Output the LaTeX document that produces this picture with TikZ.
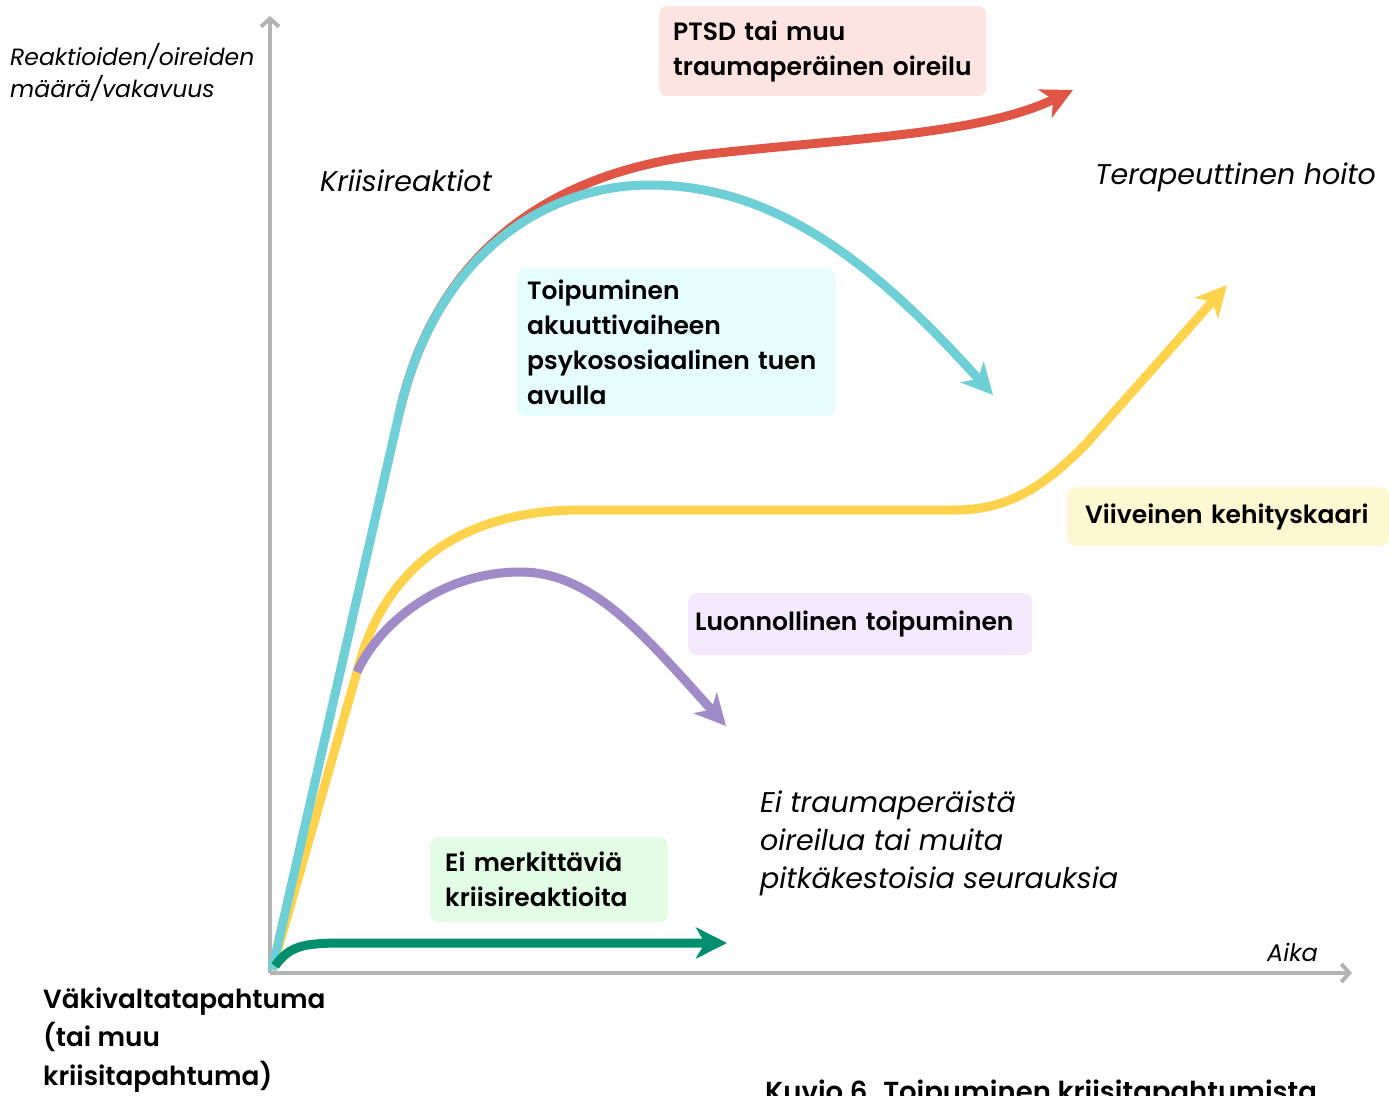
\documentclass[tikz,border=0pt]{standalone}
\usepackage{fontspec}
\setmainfont{Poppins}[BoldFont={Poppins SemiBold}]
\usetikzlibrary{arrows.meta}
\definecolor{axisgray}{HTML}{B3B3B3}
\definecolor{cred}{HTML}{E05543}
\definecolor{ccyan}{HTML}{6FCFD6}
\definecolor{cyellow}{HTML}{FFD24C}
\definecolor{cpurple}{HTML}{A08BC8}
\definecolor{cgreen}{HTML}{008F6E}
\definecolor{bpink}{HTML}{FDE4E1}
\definecolor{bcyan}{HTML}{E5FDFD}
\definecolor{byellow}{HTML}{FDF8D2}
\definecolor{bpurple}{HTML}{F4E8FD}
\definecolor{bgreen}{HTML}{E3FDE5}
\tikzset{
  axisline/.style={draw=axisgray, line width=4pt, -{Straight Barb[length=8pt,width=18pt,line width=4pt]}},
  curve/.style={line width=9pt, -{Stealth[length=31pt,width=31pt,inset=9pt]}},
  labelbox/.style={anchor=north west, rounded corners=8pt, align=left, inner ysep=0pt,
     font=\fontsize{25}{35}\selectfont\bfseries},
  itlabel/.style={anchor=west, align=left, inner sep=0pt, font=\fontsize{28.5}{38}\selectfont\itshape},
  boldlabel/.style={anchor=west, align=left, inner sep=0pt, font=\fontsize{26.3}{38.5}\selectfont\bfseries},
}
\begin{document}
\begin{tikzpicture}[x=1pt,y=-1pt]
\useasboundingbox (0,0) rectangle (1389,1095);
% coordinates
\coordinate (origin) at (270,973);
\coordinate (ytop) at (270,16);
\coordinate (xend) at (1352,973);
% axes
\draw[axisline] (origin) -- (ytop);
\draw[axisline] (origin) -- (xend);
% boxes
\node[labelbox, fill=bpink, text width=299pt, inner xsep=14pt, minimum height=90pt] (ptsd) at (659,6)
  {PTSD tai muu\\traumaperäinen oireilu};
\node[labelbox, fill=bcyan, text width=298pt, inner xsep=10pt, minimum height=148pt] (toip) at (517,268)
  {Toipuminen\\akuuttivaiheen\\psykososiaalinen tuen\\avulla};
\node[labelbox, fill=byellow, text width=286pt, inner xsep=18pt, minimum height=59pt] (viive) at (1067,487)
  {Viiveinen kehityskaari};
\node[labelbox, fill=bpurple, text width=330pt, inner xsep=7pt, minimum height=62pt] (luonn) at (688,593)
  {Luonnollinen toipuminen};
\node[labelbox, fill=bgreen, text width=208pt, inner xsep=15pt, minimum height=85pt] (eimerk) at (430,837)
  {Ei merkittäviä\\kriisireaktioita};
% curve end points
\coordinate (redend) at (1073,90);
\coordinate (cyanend) at (993,395);
\coordinate (yelend) at (1227,285);
\coordinate (purend) at (726,726);
\coordinate (greenend) at (727,943);
\coordinate (cstart) at (272,970);
% yellow
\draw[curve, cyellow] (cstart) -- (357,672) .. controls (385,560) and (470,510) .. (580,510)
   -- (955,510) .. controls (1010,510) and (1045,485) .. (1085,445) -- (yelend);
% purple
\draw[curve, cpurple] (357,672) .. controls (378,625) and (440,572) .. (520,572)
   .. controls (590,572) and (640,630) .. (purend);
% red
\draw[curve, cred] (400,410) .. controls (435,260) and (540,175) .. (700,155)
   .. controls (850,138) and (980,135) .. (redend);
% cyan
\draw[curve, ccyan] (cstart) -- (400,410) .. controls (435,260) and (540,185) .. (650,185)
   .. controls (780,185) and (880,270) .. (cyanend);
% green
\draw[curve, cgreen] (275,966) .. controls (290,945) and (305,943) .. (345,943) -- (greenend);
% texts
\node[itlabel, font=\fontsize{23.5}{32}\selectfont\itshape] (ylabel) at (10,72) {Reaktioiden/oireiden\\määrä/vakavuus};
\node[itlabel] (kriisi) at (320,181) {Kriisireaktiot};
\node[itlabel] (terap) at (1095,177) {Terapeuttinen hoito};
\node[itlabel] (eitrauma) at (760,843) {Ei traumaperäistä\\oireilua tai muita\\pitkäkestoisia seurauksia};
\node[itlabel, font=\fontsize{24}{26}\selectfont\itshape] (aika) at (1267,952) {Aika};
\node[boldlabel] (vaki) at (43,1040) {Väkivaltatapahtuma\\(tai muu\\kriisitapahtuma)};
\node[anchor=base west, inner sep=0pt, font=\fontsize{27.5}{32}\selectfont\bfseries] (caption) at (765,1101)
  {Kuvio 6. Toipuminen kriisitapahtumista};
\end{tikzpicture}
\end{document}
